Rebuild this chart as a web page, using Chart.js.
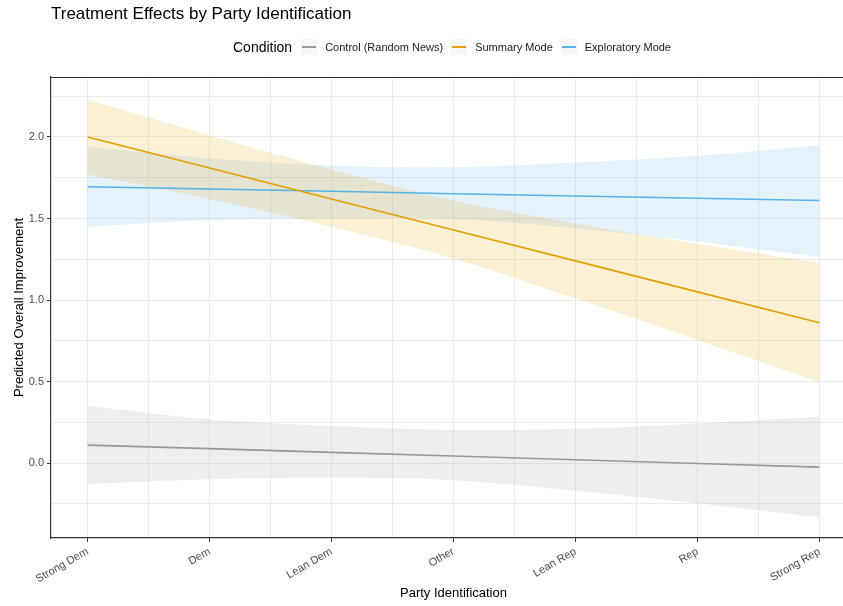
<!DOCTYPE html>
<html><head><meta charset="utf-8">
<script src="https://cdn.jsdelivr.net/npm/chart.js@4.4.1/dist/chart.umd.min.js"></script>
<style>
html,body{margin:0;padding:0;background:#fff;}
#wrap{position:relative;width:843px;height:606px;overflow:hidden;font-family:"Liberation Sans",Arial,Helvetica,sans-serif;}
#cv{position:absolute;left:0;top:0;}
#title{position:absolute;left:51px;top:4px;font-size:17px;line-height:20px;color:#000;white-space:nowrap;}
#legend{position:absolute;left:233px;top:38px;height:18px;display:flex;align-items:center;white-space:nowrap;}
#legend .lt{font-size:14px;color:#000;margin-right:9px;}
#legend .key{width:16px;height:16px;background:#F7F7F7;position:relative;margin-right:8px;}
#legend .key i{position:absolute;left:1px;right:1px;top:7px;height:2px;}
#legend .tx{font-size:11px;color:#1a1a1a;margin-right:8px;}
</style></head>
<body>
<div id="wrap">
<canvas id="cv" width="856" height="606"></canvas>
<div id="title">Treatment Effects by Party Identification</div>
<div id="legend"></div>
</div>
<script>
// ---- data ----
const categories = ['Strong Dem','Dem','Lean Dem','Other','Lean Rep','Rep','Strong Rep'];
const seriesNames = ['Control (Random News)','Summary Mode','Exploratory Mode'];
const legendTitle = 'Condition';

const controlFit   = [0.110, 0.088, 0.065, 0.043, 0.020, -0.003, -0.025];
const controlUpper = [0.350, 0.268, 0.227, 0.203, 0.210, 0.243, 0.284];
const controlLower = [-0.129, -0.100, -0.090, -0.105, -0.170, -0.247, -0.333];

const summaryFit   = [2.000, 1.810, 1.620, 1.430, 1.240, 1.050, 0.860];
const summaryUpper = [2.230, 2.010, 1.800, 1.610, 1.470, 1.345, 1.227];
const summaryLower = [1.770, 1.620, 1.450, 1.255, 1.010, 0.755, 0.497];

const exploreFit   = [1.695, 1.681, 1.667, 1.652, 1.638, 1.624, 1.610];
const exploreUpper = [1.940, 1.870, 1.825, 1.814, 1.843, 1.885, 1.950];
const exploreLower = [1.450, 1.490, 1.500, 1.497, 1.440, 1.358, 1.266];

const yTickLabels = {'0':'0.0','0.5':'0.5','1':'1.0','1.5':'1.5','2':'2.0'};
const yGridValues = [-0.25,0,0.25,0.5,0.75,1,1.25,1.5,1.75,2,2.25];
const xGridValues = [1,1.5,2,2.5,3,3.5,4,4.5,5,5.5,6,6.5,7];

const colors = ['#999999','#E69F00','#56B4E9'];
const bandColors = ['rgba(153,153,153,0.17)','rgba(230,159,0,0.17)','rgba(86,180,233,0.17)'];

// ---- build ----
const pts = arr => arr.map((v,i)=>({x:i+1,y:v}));
const fits = [controlFit, summaryFit, exploreFit];
const uppers = [controlUpper, summaryUpper, exploreUpper];
const lowers = [controlLower, summaryLower, exploreLower];

const datasets = [];
for (let s=0;s<3;s++){
  datasets.push({label:seriesNames[s]+' upper', data:pts(uppers[s]), fill:'+1', backgroundColor:bandColors[s],
    borderWidth:0, pointRadius:0, tension:0.35, order:2});
  datasets.push({label:seriesNames[s]+' lower', data:pts(lowers[s]), fill:false, borderWidth:0,
    pointRadius:0, tension:0.35, order:2});
}
for (let s=0;s<3;s++){
  datasets.push({label:seriesNames[s], data:pts(fits[s]), fill:false, borderColor:colors[s], borderWidth:1.6,
    pointRadius:0, tension:0, order:0});
}

// legend
const lg = document.getElementById('legend');
lg.innerHTML = '<span class="lt">'+legendTitle+'</span>' + seriesNames.map((n,i)=>
  '<span class="key"><i style="background:'+colors[i]+'"></i></span><span class="tx">'+n+'</span>').join('');

const topFrame = {id:'topFrame', afterDraw(c){
  const {ctx, chartArea:a} = c;
  ctx.save(); ctx.strokeStyle='#333'; ctx.lineWidth=1.2;
  ctx.beginPath(); ctx.moveTo(a.left, a.top+0.5); ctx.lineTo(a.right, a.top+0.5); ctx.stroke();
  ctx.restore();
}};

const tickFont = {family:'"Liberation Sans", Arial, sans-serif', size:11};
const titleFont = {family:'"Liberation Sans", Arial, sans-serif', size:13};

new Chart(document.getElementById('cv'), {
  type:'line',
  data:{datasets},
  options:{
    responsive:false, animation:false, devicePixelRatio:1,
    layout:{padding:{top:77,left:0,right:0,bottom:0}},
    plugins:{legend:{display:false}, tooltip:{enabled:false}, title:{display:false}},
    scales:{
      x:{type:'linear', min:0.7, max:7.3,
        afterBuildTicks(ax){ ax.ticks = xGridValues.map(v=>({value:v})); },
        afterFit(ax){ ax.height = 68; },
        grid:{color:'#EBEBEB', lineWidth:1, tickLength:4,
          tickColor:c=> Number.isInteger(c.tick.value) ? '#333' : 'rgba(0,0,0,0)'},
        border:{color:'#333', width:1.2},
        ticks:{autoSkip:false, minRotation:30, maxRotation:30, padding:3, color:'#4D4D4D', font:tickFont,
          callback:v=> Number.isInteger(v) ? categories[v-1] : ''},
        title:{display:true, text:'Party Identification', color:'#000', font:titleFont, padding:{top:0,bottom:5}}
      },
      y:{type:'linear', min:-0.46, max:2.368,
        afterBuildTicks(ax){ ax.ticks = yGridValues.map(v=>({value:v})); },
        afterFit(ax){ ax.width = 51; },
        grid:{color:'#EBEBEB', lineWidth:1, tickLength:4,
          tickColor:c=> (String(c.tick.value) in yTickLabels) ? '#333' : 'rgba(0,0,0,0)'},
        border:{color:'#333', width:1.2},
        ticks:{padding:3, color:'#4D4D4D', font:tickFont,
          callback:v=> yTickLabels[String(v)] || ''},
        title:{display:true, text:'Predicted Overall Improvement', color:'#000', font:titleFont, padding:{top:12,bottom:0}}
      }
    }
  },
  plugins:[topFrame]
});
</script>
</body></html>
